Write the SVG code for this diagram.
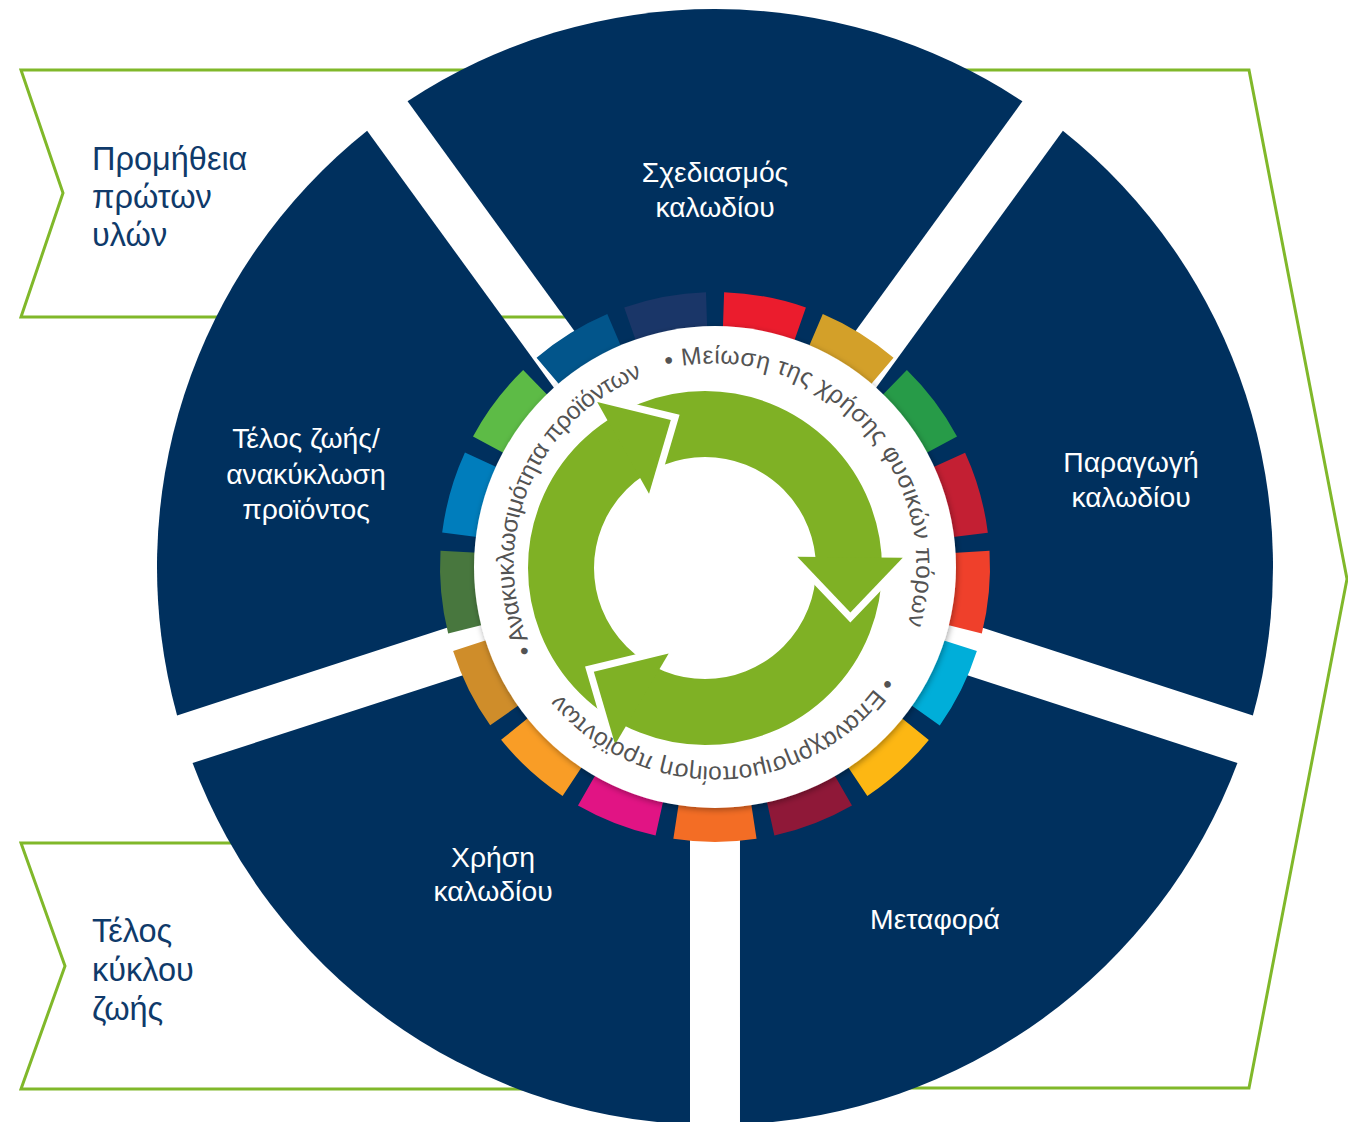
<svg xmlns="http://www.w3.org/2000/svg" width="1348" height="1122" viewBox="0 0 1348 1122">
<style>
.chev{fill:#fff;stroke:#80B82A;stroke-width:3;stroke-linejoin:miter}
.sector{fill:#00305E}
.slabel{font-family:"Liberation Sans",Arial,sans-serif;font-size:28.3px;fill:#fff;text-anchor:middle}
.clabel{font-family:"Liberation Sans",Arial,sans-serif;font-size:32.5px;fill:#0F3A6A}
.ring{font-family:"Liberation Sans",Arial,sans-serif;font-size:24.5px;fill:#535353}
.gr{fill:#7FB125}
.cut{fill:none;stroke:#fff;stroke-width:14;stroke-linejoin:miter}
</style>
<defs>
<path id="seg" d="M673.40,295.17 A275,275 0 0 1 756.60,295.17 L751.00,331.74 A238,238 0 0 0 679.00,331.74 Z"/>
<path id="tp" d="M540.93,665.5 A201,201 0 1 1 889.07,464.5 A201,201 0 1 1 540.93,665.5"/>
<filter id="sh" x="-10%" y="-10%" width="120%" height="120%"><feDropShadow dx="1" dy="2" stdDeviation="3" flood-color="#000" flood-opacity="0.35"/></filter>
</defs>
<rect width="1348" height="1122" fill="#fff"/>

<g id="node-supply">
<polygon class="chev" points="21,70 640,70 640,317 21,317 63,193"/>
<text class="clabel"><tspan x="92" y="170">Προμήθεια</tspan><tspan x="92" y="208">πρώτων</tspan><tspan x="92" y="246">υλών</tspan></text>
</g>
<g id="node-end-of-cycle">
<polygon class="chev" points="21,843 600,843 600,1089 21,1089 65,966"/>
<text class="clabel"><tspan x="92" y="942">Τέλος</tspan><tspan x="92" y="981">κύκλου</tspan><tspan x="92" y="1020">ζωής</tspan></text>
</g>
<g id="node-flow">
<polygon class="chev" points="960,70 1249,70 1347,579 1249,1088 900,1088 715,567"/>
</g>

<g id="node-design">
<path class="sector" d="M715,524.5 L407.57,101.33 A558,558 0 0 1 1022.43,101.33 Z"/>
<text class="slabel"><tspan x="715" y="182">Σχεδιασμός</tspan><tspan x="715" y="217">καλωδίου</tspan></text>
</g>
<g id="node-production">
<path class="sector" d="M755.42,553.87 L1062.89,130.71 A558,558 0 0 1 1252.89,715.48 Z"/>
<text class="slabel"><tspan x="1131" y="472">Παραγωγή</tspan><tspan x="1131" y="507">καλωδίου</tspan></text>
</g>
<g id="node-transport">
<path class="sector" d="M739.98,601.38 L1237.43,763.04 A558,558 0 0 1 740,1124.44 Z"/>
<text class="slabel" x="935" y="929">Μεταφορά</text>
</g>
<g id="node-use">
<path class="sector" d="M690.02,601.38 L690,1124.44 A558,558 0 0 1 192.57,763.04 Z"/>
<text class="slabel"><tspan x="493" y="867">Χρήση</tspan><tspan x="493" y="901">καλωδίου</tspan></text>
</g>
<g id="node-end-of-life">
<path class="sector" d="M674.58,553.87 L177.11,715.48 A558,558 0 0 1 367.11,130.71 Z"/>
<text class="slabel"><tspan x="306" y="448">Τέλος ζωής/</tspan><tspan x="306" y="484">ανακύκλωση</tspan><tspan x="306" y="519">προϊόντος</tspan></text>
</g>

<g id="node-sdg-ring">
<use href="#seg" fill="#EB1C2D" transform="rotate(10.6 715 567)"/>
<use href="#seg" fill="#D3A029" transform="rotate(31.78 715 567)"/>
<use href="#seg" fill="#279B48" transform="rotate(52.95 715 567)"/>
<use href="#seg" fill="#C31F33" transform="rotate(74.13 715 567)"/>
<use href="#seg" fill="#EF402B" transform="rotate(95.3 715 567)"/>
<use href="#seg" fill="#00AED9" transform="rotate(116.48 715 567)"/>
<use href="#seg" fill="#FDB713" transform="rotate(137.66 715 567)"/>
<use href="#seg" fill="#8F1838" transform="rotate(158.83 715 567)"/>
<use href="#seg" fill="#F36D25" transform="rotate(180.01 715 567)"/>
<use href="#seg" fill="#E11484" transform="rotate(201.18 715 567)"/>
<use href="#seg" fill="#F99D26" transform="rotate(222.36 715 567)"/>
<use href="#seg" fill="#CF8D2A" transform="rotate(243.54 715 567)"/>
<use href="#seg" fill="#48773E" transform="rotate(264.71 715 567)"/>
<use href="#seg" fill="#007DBC" transform="rotate(285.89 715 567)"/>
<use href="#seg" fill="#5DBB46" transform="rotate(307.06 715 567)"/>
<use href="#seg" fill="#02558B" transform="rotate(328.24 715 567)"/>
<use href="#seg" fill="#1A3668" transform="rotate(349.42 715 567)"/>
</g>

<g id="node-center">
<circle cx="715" cy="567" r="241" fill="#fff" filter="url(#sh)"/>
</g>

<g id="connectors">
<circle cx="705" cy="568" r="144" fill="none" stroke="#7FB125" stroke-width="66"/>
<polyline class="cut" points="597.16,401.94 670.81,419.90 649.03,493.73"/>
<polyline class="cut" points="902.73,557.64 850.36,612.44 797.31,556.67"/>
<polyline class="cut" points="615.11,744.42 593.83,671.66 668.66,653.61"/>
<polygon class="gr" points="597.16,401.94 670.81,419.90 649.03,493.73"/>
<polygon class="gr" points="902.73,557.64 850.36,612.44 797.31,556.67"/>
<polygon class="gr" points="615.11,744.42 593.83,671.66 668.66,653.61"/>
</g>

<g id="ring-labels">
<text class="ring" letter-spacing="-0.44"><textPath href="#tp" startOffset="15.8">• Ανακυκλωσιμότητα προϊόντων</textPath></text>
<text class="ring" letter-spacing="0.4"><textPath href="#tp" startOffset="372.6">• Μείωση της χρήσης φυσικών πόρων</textPath></text>
<text class="ring" letter-spacing="-0.12"><textPath href="#tp" startOffset="855.3">• Επαναχρησιμοποίηση προϊόντων</textPath></text>
</g>
</svg>
